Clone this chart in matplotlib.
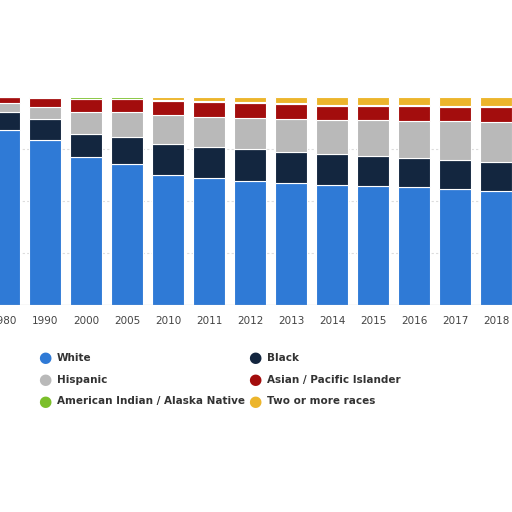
import matplotlib
matplotlib.use("Agg")
import matplotlib.pyplot as plt
import numpy as np

years = ["1980","1990","2000","2005","2010","2011","2012","2013","2014","2015","2016","2017","2018"]
white    = [84.0,79.3,71.2,67.8,62.5,61.0,59.6,58.6,57.7,57.2,56.7,55.8,54.8]
black    = [ 8.7,10.0,11.0,13.0,14.9,14.9,15.4,14.9,14.9,14.4,13.9,13.9,13.9]
hispanic = [ 4.3, 5.8,10.6,12.0,13.9,14.4,14.9,15.9,16.3,17.3,17.8,18.7,19.2]
asian    = [ 3.0, 4.4, 6.2, 6.2, 6.7, 7.2, 7.2, 7.2, 6.7, 6.7, 7.2, 6.7, 7.2]
amind    = [ 0.0, 0.5, 1.0, 1.0, 0.5, 0.5, 0.5, 0.5, 0.5, 0.5, 0.5, 0.5, 0.5]
two      = [ 0.0, 0.0, 0.0, 0.0, 1.5, 2.0, 2.4, 2.9, 3.9, 3.9, 3.9, 4.4, 4.4]

labels = ["White","Black","Hispanic","Asian / Pacific Islander","American Indian / Alaska Native","Two or more races"]
colors = ["#2f7ad6","#13263f","#b9b9b9","#a30d0d","#7bbf2a","#ecb52c"]
series = [white, black, hispanic, asian, amind, two]

fig = plt.figure(figsize=(5.12,5.12), dpi=100)
ax = fig.add_axes([0, 1-305/512, 1, 208/512])
x = np.arange(len(years))
bottom = np.zeros(len(years))
for s,c in zip(series, colors):
    ax.bar(x, s, bottom=bottom, width=0.8, color=c, edgecolor="white", linewidth=0.8, zorder=3)
    bottom += np.array(s)
ax.set_ylim(0,100)
ax.set_xlim(-4/41, -4/41 + 512/41)
for yv in [25,50,75]:
    ax.axhline(yv, color="#dddddd", lw=0.8, ls=(0,(2,2)), zorder=1)
ax.set_xticks(x)
ax.set_xticklabels(years, fontsize=7.5, color="#444444")
ax.tick_params(length=0, pad=8)
ax.set_yticks([])
for sp in ax.spines.values():
    sp.set_visible(False)
ax.axhline(0, color="#888888", lw=0.8, zorder=4)

pos = [(38,358),(248,358),(38,380),(248,380),(38,401),(248,401)]
for (px,py),l,c in zip(pos, labels, colors):
    fig.text(px/512, 1-py/512, "●", color=c, fontsize=11, va="center", ha="left")
    fig.text((px+19)/512, 1-py/512, l, color="#333333", fontsize=7.5, fontweight="bold", va="center", ha="left")
fig.savefig("out.png", dpi=100)
